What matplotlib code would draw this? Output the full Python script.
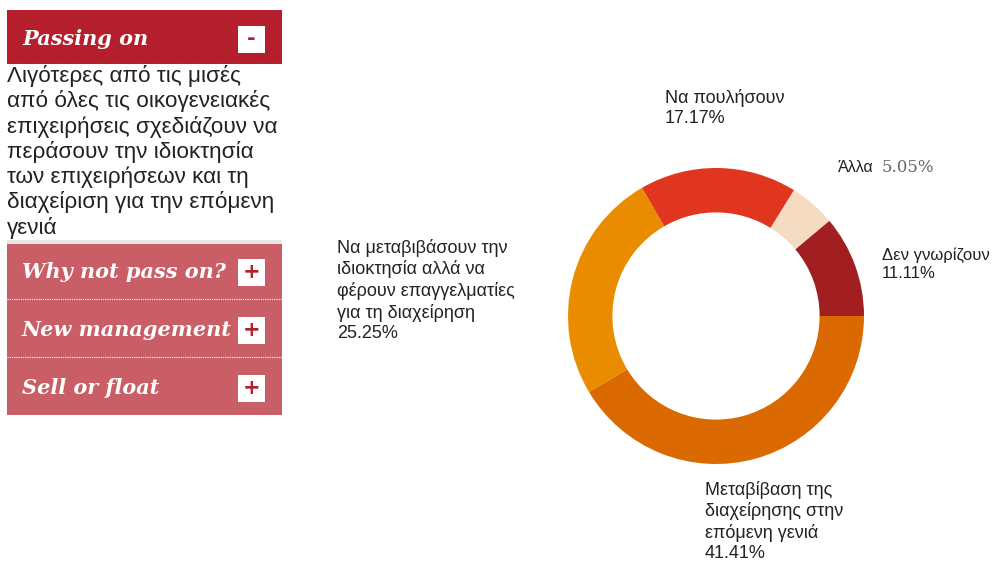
import matplotlib.pyplot as plt
from matplotlib.patches import Rectangle

plt.rcParams['font.family'] = ['Liberation Sans', 'DejaVu Sans']

# pie data (clockwise from 3 o'clock)
categories = ['Μεταβίβαση της\nδιαχείρησης στην\nεπόμενη γενιά',
              'Να μεταβιβάσουν την\nιδιοκτησία αλλά να\nφέρουν επαγγελματίες\nγια τη διαχείρηση',
              'Να πουλήσουν',
              'Άλλα',
              'Δεν γνωρίζουν']
values = [41.41, 25.25, 17.17, 5.05, 11.11]
colors = ['#DA6A00', '#E98C00', '#E0361F', '#F5DBC1', '#A21F21']

# sidebar text
section_titles = ['Passing on', 'Why not pass on?', 'New management', 'Sell or float']
section_signs = ['-', '+', '+', '+']
description = ('Λιγότερες από τις μισές\nαπό όλες τις οικογενειακές\n'
               'επιχειρήσεις σχεδιάζουν να\nπεράσουν την ιδιοκτησία\n'
               'των επιχειρήσεων και τη\nδιαχείριση για την επόμενη\nγενιά')

W, H = 994, 563
fig = plt.figure(figsize=(W / 100, H / 100), dpi=100)

# overlay axis in pixel coordinates
ax = fig.add_axes([0, 0, 1, 1])
ax.set_xlim(0, W)
ax.set_ylim(H, 0)
ax.axis('off')

red = '#B51E2C'
pink = '#C95E66'
txt = '#222222'

# header box
ax.add_patch(Rectangle((7, 10), 275, 54, color=red, lw=0))
ax.plot([7, 282], [64, 64], color='white', lw=0.8, ls=(0, (1, 1)))
# pink section
ax.add_patch(Rectangle((7, 240), 275, 4, color='#E9E5E2', lw=0))
ax.add_patch(Rectangle((7, 244), 275, 171, color=pink, lw=0))
for y in [299, 357, 415]:
    ax.plot([7, 282], [y, y], color='white', lw=0.8, ls=(0, (1, 1)))

title_y = [39, 272, 330, 388]
for t, s, y in zip(section_titles, section_signs, title_y):
    ax.text(22, y, t, fontsize=15, fontweight='bold', fontstyle='italic',
            family='DejaVu Serif', color='white', va='center', ha='left')
    ax.add_patch(Rectangle((238, y - 13), 27, 27, color='white', lw=0))
    ax.text(251.5, y, s, fontsize=15, fontweight='bold', color=red,
            family='DejaVu Sans', va='center', ha='center')

ax.text(7, 65, description, fontsize=16.2, color=txt, va='top', ha='left',
        linespacing=1.2)

# donut
cx, cy, r = 716, 316, 148
dax = fig.add_axes([(cx - r) / W, (H - cy - r) / H, 2 * r / W, 2 * r / H])
dax.pie(values, colors=colors, startangle=0, counterclock=False, radius=1,
        wedgeprops=dict(width=0.3, edgecolor='none'))
dax.set_xlim(-1, 1)
dax.set_ylim(-1, 1)
dax.set_aspect('auto')
dax.axis('off')

# labels
label_pos = [(705, 481), (337, 239), (665, 89), (838, 168), (882, 247)]
label_size = [13, 13, 13, 11.5, 12]
for i, (cat, v) in enumerate(zip(categories, values)):
    x, y = label_pos[i]
    if cat == 'Άλλα':
        ax.text(x, y, cat, fontsize=label_size[i], color=txt, va='center',
                ha='left')
        ax.text(x + 44, y, '%.2f%%' % v, fontsize=12, color='#666666',
                family='DejaVu Serif', va='center', ha='left')
    else:
        ax.text(x, y, cat + '\n%.2f%%' % v, fontsize=label_size[i], color=txt,
                va='top', ha='left', linespacing=1.25)

fig.savefig('out.png', dpi=100)
